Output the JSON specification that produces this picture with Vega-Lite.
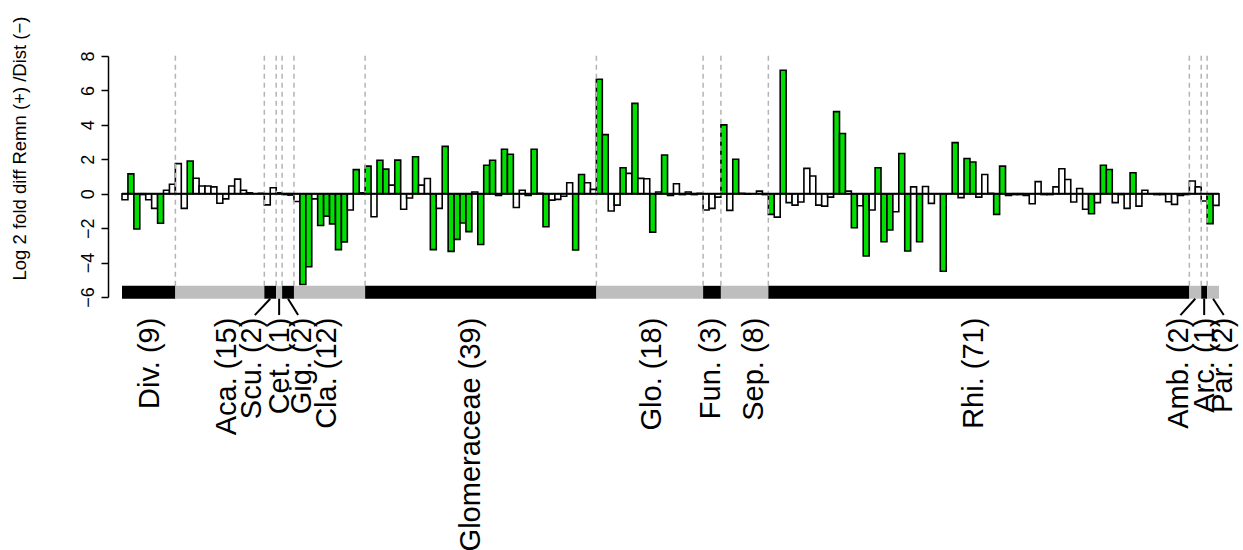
{
  "$schema": "https://vega.github.io/schema/vega-lite/v6.json",
  "width": 1097,
  "height": 241,
  "autosize": {"type": "none"},
  "padding": {"left": 122, "top": 56, "right": 24, "bottom": 253},
  "background": "white",
  "config": {
    "view": {"stroke": null},
    "font": "Liberation Sans",
    "axis": {"grid": false}
  },
  "datasets": {
    "otus": [
      {"i":0,"v":-0.35,"s":"w"},{"i":1,"v":1.15,"s":"g"},{"i":2,"v":-2.05,"s":"g"},{"i":3,"v":-0.05,"s":"w"},{"i":4,"v":-0.35,"s":"w"},{"i":5,"v":-0.85,"s":"w"},{"i":6,"v":-1.72,"s":"g"},{"i":7,"v":0.2,"s":"w"},{"i":8,"v":0.55,"s":"w"},
      {"i":9,"v":1.75,"s":"w"},{"i":10,"v":-0.85,"s":"w"},{"i":11,"v":1.9,"s":"g"},{"i":12,"v":0.9,"s":"w"},{"i":13,"v":0.45,"s":"w"},{"i":14,"v":0.45,"s":"w"},{"i":15,"v":0.4,"s":"w"},{"i":16,"v":-0.55,"s":"w"},{"i":17,"v":-0.3,"s":"w"},{"i":18,"v":0.45,"s":"w"},{"i":19,"v":0.85,"s":"w"},{"i":20,"v":0.2,"s":"w"},{"i":21,"v":0.05,"s":"w"},{"i":22,"v":0.0,"s":"w"},{"i":23,"v":0.02,"s":"w"},
      {"i":24,"v":-0.65,"s":"w"},{"i":25,"v":0.35,"s":"w"},
      {"i":26,"v":0.05,"s":"w"},
      {"i":27,"v":-0.05,"s":"w"},{"i":28,"v":-0.08,"s":"w"},
      {"i":29,"v":-0.45,"s":"w"},{"i":30,"v":-5.27,"s":"g"},{"i":31,"v":-4.24,"s":"g"},{"i":32,"v":-0.3,"s":"w"},{"i":33,"v":-1.85,"s":"g"},{"i":34,"v":-1.3,"s":"g"},{"i":35,"v":-1.75,"s":"g"},{"i":36,"v":-3.25,"s":"g"},{"i":37,"v":-2.8,"s":"g"},{"i":38,"v":-0.95,"s":"w"},{"i":39,"v":1.4,"s":"g"},{"i":40,"v":0.05,"s":"w"},
      {"i":41,"v":1.6,"s":"g"},{"i":42,"v":-1.34,"s":"w"},{"i":43,"v":1.94,"s":"g"},{"i":44,"v":1.43,"s":"g"},{"i":45,"v":0.5,"s":"w"},{"i":46,"v":1.95,"s":"g"},{"i":47,"v":-0.9,"s":"w"},{"i":48,"v":-0.25,"s":"w"},{"i":49,"v":2.15,"s":"g"},{"i":50,"v":0.5,"s":"w"},
      {"i":51,"v":0.88,"s":"w"},{"i":52,"v":-3.25,"s":"g"},{"i":53,"v":-0.85,"s":"w"},{"i":54,"v":2.75,"s":"g"},{"i":55,"v":-3.35,"s":"g"},{"i":56,"v":-2.65,"s":"g"},{"i":57,"v":-1.7,"s":"g"},{"i":58,"v":-2.2,"s":"g"},{"i":59,"v":0.1,"s":"w"},{"i":60,"v":-2.95,"s":"g"},
      {"i":61,"v":1.65,"s":"g"},{"i":62,"v":1.94,"s":"g"},{"i":63,"v":-0.1,"s":"w"},{"i":64,"v":2.58,"s":"g"},{"i":65,"v":2.29,"s":"g"},{"i":66,"v":-0.8,"s":"w"},{"i":67,"v":0.2,"s":"w"},{"i":68,"v":-0.1,"s":"w"},{"i":69,"v":2.58,"s":"g"},{"i":70,"v":0.02,"s":"w"},
      {"i":71,"v":-1.92,"s":"g"},{"i":72,"v":-0.37,"s":"w"},{"i":73,"v":-0.33,"s":"w"},{"i":74,"v":-0.15,"s":"w"},{"i":75,"v":0.64,"s":"w"},{"i":76,"v":-3.27,"s":"g"},{"i":77,"v":1.12,"s":"g"},{"i":78,"v":0.64,"s":"w"},{"i":79,"v":0.25,"s":"w"},
      {"i":80,"v":6.65,"s":"g"},{"i":81,"v":3.43,"s":"g"},{"i":82,"v":-1.0,"s":"w"},{"i":83,"v":-0.66,"s":"w"},{"i":84,"v":1.51,"s":"g"},{"i":85,"v":1.18,"s":"w"},{"i":86,"v":5.25,"s":"g"},{"i":87,"v":0.89,"s":"w"},{"i":88,"v":0.87,"s":"w"},{"i":89,"v":-2.23,"s":"g"},
      {"i":90,"v":0.1,"s":"w"},{"i":91,"v":2.25,"s":"g"},{"i":92,"v":-0.1,"s":"w"},{"i":93,"v":0.58,"s":"w"},{"i":94,"v":-0.05,"s":"w"},{"i":95,"v":0.1,"s":"w"},{"i":96,"v":-0.05,"s":"w"},{"i":97,"v":0.02,"s":"w"},
      {"i":98,"v":-0.95,"s":"w"},{"i":99,"v":-0.85,"s":"w"},{"i":100,"v":-0.2,"s":"w"},
      {"i":101,"v":4.0,"s":"g"},{"i":102,"v":-0.97,"s":"w"},{"i":103,"v":2.0,"s":"g"},{"i":104,"v":0.02,"s":"w"},{"i":105,"v":-0.03,"s":"w"},{"i":106,"v":0.0,"s":"w"},{"i":107,"v":0.15,"s":"w"},{"i":108,"v":-0.05,"s":"w"},
      {"i":109,"v":-1.2,"s":"g"},{"i":110,"v":-1.36,"s":"w"},{"i":111,"v":7.17,"s":"g"},{"i":112,"v":-0.52,"s":"w"},{"i":113,"v":-0.66,"s":"w"},{"i":114,"v":-0.48,"s":"w"},{"i":115,"v":1.47,"s":"w"},{"i":116,"v":1.03,"s":"w"},{"i":117,"v":-0.66,"s":"w"},{"i":118,"v":-0.72,"s":"w"},
      {"i":119,"v":-0.2,"s":"w"},{"i":120,"v":4.77,"s":"g"},{"i":121,"v":3.5,"s":"g"},{"i":122,"v":0.15,"s":"w"},{"i":123,"v":-1.98,"s":"g"},{"i":124,"v":-0.7,"s":"w"},{"i":125,"v":-3.62,"s":"g"},{"i":126,"v":-0.95,"s":"w"},{"i":127,"v":1.51,"s":"g"},{"i":128,"v":-2.79,"s":"g"},
      {"i":129,"v":-2.11,"s":"g"},{"i":130,"v":-1.05,"s":"w"},{"i":131,"v":2.34,"s":"g"},{"i":132,"v":-3.33,"s":"g"},{"i":133,"v":0.4,"s":"w"},{"i":134,"v":-2.79,"s":"g"},{"i":135,"v":0.42,"s":"w"},{"i":136,"v":-0.56,"s":"w"},{"i":137,"v":0.0,"s":"w"},{"i":138,"v":-4.5,"s":"g"},
      {"i":139,"v":0.0,"s":"w"},{"i":140,"v":2.97,"s":"g"},{"i":141,"v":-0.23,"s":"w"},{"i":142,"v":2.05,"s":"g"},{"i":143,"v":1.84,"s":"g"},{"i":144,"v":-0.2,"s":"w"},{"i":145,"v":1.12,"s":"w"},{"i":146,"v":0.02,"s":"w"},{"i":147,"v":-1.2,"s":"g"},{"i":148,"v":1.6,"s":"g"},
      {"i":149,"v":-0.1,"s":"w"},{"i":150,"v":-0.05,"s":"w"},{"i":151,"v":-0.05,"s":"w"},{"i":152,"v":-0.1,"s":"w"},{"i":153,"v":-0.58,"s":"w"},{"i":154,"v":0.7,"s":"w"},{"i":155,"v":-0.05,"s":"w"},{"i":156,"v":-0.05,"s":"w"},{"i":157,"v":0.4,"s":"w"},{"i":158,"v":1.45,"s":"w"},
      {"i":159,"v":0.83,"s":"w"},{"i":160,"v":-0.48,"s":"w"},{"i":161,"v":0.3,"s":"w"},{"i":162,"v":-0.9,"s":"w"},{"i":163,"v":-1.16,"s":"g"},{"i":164,"v":-0.52,"s":"w"},{"i":165,"v":1.65,"s":"g"},{"i":166,"v":1.41,"s":"g"},{"i":167,"v":-0.52,"s":"w"},{"i":168,"v":-0.05,"s":"w"},
      {"i":169,"v":-0.85,"s":"w"},{"i":170,"v":1.22,"s":"g"},{"i":171,"v":-0.72,"s":"w"},{"i":172,"v":0.2,"s":"w"},{"i":173,"v":0.0,"s":"w"},{"i":174,"v":-0.05,"s":"w"},{"i":175,"v":-0.05,"s":"w"},{"i":176,"v":-0.47,"s":"w"},{"i":177,"v":-0.62,"s":"w"},{"i":178,"v":-0.1,"s":"w"},
      {"i":179,"v":-0.05,"s":"w"},
      {"i":180,"v":0.74,"s":"w"},{"i":181,"v":0.4,"s":"w"},
      {"i":182,"v":-0.42,"s":"w"},
      {"i":183,"v":-1.74,"s":"g"},{"i":184,"v":-0.68,"s":"w"}
    ],
    "families": [
      {"name":"Div.","label":"Div. (9)","start":0,"end":9,"mid":4.5,"labelAt":4.7,"tip":4.5,"shade":"dark","link":false},
      {"name":"Aca.","label":"Aca. (15)","start":9,"end":24,"mid":16.5,"labelAt":17.7,"tip":16.5,"shade":"light","link":false},
      {"name":"Scu.","label":"Scu. (2)","start":24,"end":26,"mid":25,"labelAt":21.9,"tip":22.4,"shade":"dark","link":true},
      {"name":"Cet.","label":"Cet. (1)","start":26,"end":27,"mid":26.5,"labelAt":26.6,"tip":26.5,"shade":"light","link":true},
      {"name":"Gig.","label":"Gig. (2)","start":27,"end":29,"mid":28,"labelAt":30.3,"tip":29.7,"shade":"dark","link":true},
      {"name":"Cla.","label":"Cla. (12)","start":29,"end":41,"mid":35,"labelAt":34.6,"tip":35,"shade":"light","link":false},
      {"name":"Glomeraceae","label":"Glomeraceae (39)","start":41,"end":80,"mid":60.5,"labelAt":58.9,"tip":60.5,"shade":"dark","link":false},
      {"name":"Glo.","label":"Glo. (18)","start":80,"end":98,"mid":89,"labelAt":89.4,"tip":89,"shade":"light","link":false},
      {"name":"Fun.","label":"Fun. (3)","start":98,"end":101,"mid":99.5,"labelAt":99.3,"tip":99.5,"shade":"dark","link":false},
      {"name":"Sep.","label":"Sep. (8)","start":101,"end":109,"mid":105,"labelAt":106.6,"tip":105,"shade":"light","link":false},
      {"name":"Rhi.","label":"Rhi. (71)","start":109,"end":180,"mid":144.5,"labelAt":143.7,"tip":144.5,"shade":"dark","link":false},
      {"name":"Amb.","label":"Amb. (2)","start":180,"end":182,"mid":181,"labelAt":178.2,"tip":178.5,"shade":"light","link":true},
      {"name":"Arc.","label":"Arc. (1)","start":182,"end":183,"mid":182.5,"labelAt":182.6,"tip":182.5,"shade":"dark","link":true},
      {"name":"Par.","label":"Par. (2)","start":183,"end":185,"mid":184,"labelAt":185.7,"tip":185.8,"shade":"light","link":true}
    ]
  },
  "layer": [
    {
      "data": {"name": "otus"},
      "mark": {"type": "bar", "stroke": "black", "strokeWidth": 1.6, "clip": false},
      "encoding": {
        "x": {"field": "i", "type": "ordinal", "sort": null, "scale": {"paddingInner": 0, "paddingOuter": 0}, "axis": null},
        "y": {
          "field": "v", "type": "quantitative",
          "scale": {"domain": [-6, 8], "nice": false, "zero": false},
          "axis": {
            "values": [-6, -4, -2, 0, 2, 4, 6, 8],
            "labelOverlap": false,
            "offset": 14,
            "tickSize": 7,
            "tickWidth": 1.5,
            "tickColor": "black",
            "domainColor": "black",
            "domainWidth": 1.5,
            "labelAngle": -90,
            "labelAlign": "center",
            "labelBaseline": "bottom",
            "labelPadding": 4,
            "labelFontSize": 18,
            "labelColor": "black",
            "labelFont": "Liberation Sans",
            "title": "Log 2 fold diff Remn (+) /Dist (−)",
            "titleFontSize": 18.5,
            "titleFontWeight": "normal",
            "titleFont": "Liberation Sans",
            "titleColor": "black",
            "titleAngle": -90,
            "titleAlign": "center",
            "titleBaseline": "middle",
            "titleX": -89,
            "titleY": 92
          }
        },
        "y2": {"datum": 0},
        "fill": {"field": "s", "type": "nominal", "scale": {"domain": ["g", "w"], "range": ["#00e000", "#ffffff"]}, "legend": null}
      }
    },
    {
      "data": {"name": "families"},
      "transform": [{"filter": "datum.end < 185"}],
      "mark": {"type": "rule", "color": "#b4b4b4", "strokeWidth": 1.5, "strokeDash": [5, 4]},
      "encoding": {
        "x": {"field": "end", "type": "quantitative", "scale": {"domain": [0, 185], "nice": false, "zero": false}, "axis": null},
        "y": {"datum": -5.35, "axis": null},
        "y2": {"datum": 8.1}
      }
    },
    {
      "data": {"values": [{"from": 0, "to": 185}]},
      "mark": {"type": "rule", "color": "black", "strokeWidth": 2},
      "encoding": {
        "x": {"field": "from", "type": "quantitative", "scale": {"domain": [0, 185], "nice": false, "zero": false}, "axis": null},
        "x2": {"field": "to"},
        "y": {"datum": 0, "axis": null}
      }
    },
    {
      "data": {"name": "families"},
      "mark": {"type": "rect", "clip": false},
      "encoding": {
        "x": {"field": "start", "type": "quantitative", "scale": {"domain": [0, 185], "nice": false, "zero": false}, "axis": null},
        "x2": {"field": "end"},
        "y": {"datum": -5.35, "axis": null},
        "y2": {"datum": -6.1},
        "fill": {"field": "shade", "type": "nominal", "scale": {"domain": ["dark", "light"], "range": ["#000000", "#bebebe"]}, "legend": null}
      }
    },
    {
      "data": {"name": "families"},
      "transform": [{"filter": "datum.link"}],
      "mark": {"type": "rule", "color": "black", "strokeWidth": 2, "clip": false},
      "encoding": {
        "x": {"field": "mid", "type": "quantitative", "scale": {"domain": [0, 185], "nice": false, "zero": false}, "axis": null},
        "x2": {"field": "tip"},
        "y": {"datum": -6.1, "axis": null},
        "y2": {"datum": -7.05}
      }
    },
    {
      "data": {"name": "families"},
      "mark": {"type": "text", "angle": 270, "align": "right", "baseline": "middle", "fontSize": 29, "font": "Liberation Sans", "color": "black", "clip": false},
      "encoding": {
        "x": {"field": "labelAt", "type": "quantitative", "scale": {"domain": [0, 185], "nice": false, "zero": false}, "axis": null},
        "y": {"datum": -7.2, "axis": null},
        "text": {"field": "label"}
      }
    }
  ],
  "resolve": {"scale": {"x": "independent", "fill": "independent"}, "axis": {"y": "independent"}}
}
